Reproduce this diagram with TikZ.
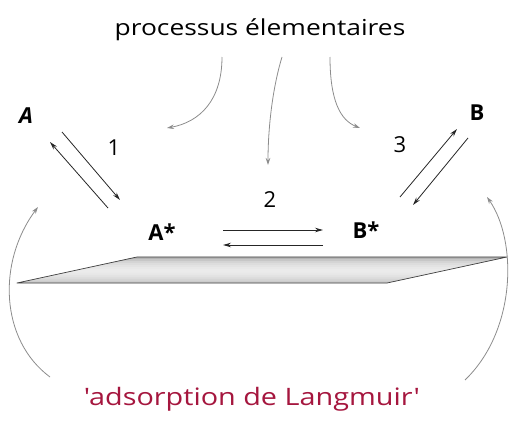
\documentclass[tikz,border=0pt]{standalone}
\usepackage{fontspec}
\setmainfont{Open Sans}
\newfontfamily\widefont[FakeStretch=1.2]{Open Sans}
\usetikzlibrary{arrows.meta}
\definecolor{crim}{RGB}{165,22,62}
\begin{document}
\begin{tikzpicture}[x=1pt,y=-1pt,
  lbl/.style={font=\widefont\fontsize{22}{26}\selectfont, inner sep=0pt},
  big/.style={font=\fontsize{22}{26}\selectfont\bfseries, inner sep=0pt},
  num/.style={font=\fontsize{22}{26}\selectfont, inner sep=0pt},
  grayarrow/.style={draw=gray!90, line width=0.8pt, -{Stealth[length=7pt,width=4.5pt]}},
  blackarrow/.style={draw=black!85, line width=0.8pt, -{Stealth[length=8pt,width=4.5pt]}}]
\useasboundingbox (0,0) rectangle (509,423);
% texts
\node[lbl] (title) at (260,30) {processus élementaires};
\node[lbl, text=crim, font=\widefont\fontsize{24}{28}\selectfont] (langmuir) at (252,399) {'adsorption de Langmuir'};
\node[big] (A) at (26,116) {\itshape A};
\node[big] (B) at (477,113) {B};
\node[big] (As) at (162,232) {A*};
\node[big] (Bs) at (366,230) {B*};
\node[num] (n1) at (114,148) {1};
\node[num] (n2) at (270,200) {2};
\node[num] (n3) at (400,145) {3};
% plate: gradient built from thin bands
\foreach \t/\c in {0/60,1/45,2/34,3/27,4/22,5/18,6/16,7/16,8/18,9/22,10/27,11/33,12/40}{
  \fill[gray!\c, draw=gray!\c, line width=0.3pt]
    ({137-120*\t/13},{257+26*\t/13}) -- ({507-120*\t/13},{257+26*\t/13})
    -- ({507-120*(\t+1)/13},{257+26*(\t+1)/13}) -- ({137-120*(\t+1)/13},{257+26*(\t+1)/13}) -- cycle;
}
\draw[black!75, line width=0.7pt, line join=round]
  (137,257) -- (507,257) -- (387,283) -- (17,283) -- cycle;
% coordinates for connector ends
\coordinate (g1s) at (222,57); \coordinate (g1e) at (167,128);
\coordinate (g2s) at (282,57); \coordinate (g2e) at (268,165);
\coordinate (g3s) at (330,57); \coordinate (g3e) at (360,128);
\coordinate (L1s) at (50,377); \coordinate (L1e) at (38,207);
\coordinate (R1s) at (465,380); \coordinate (R1e) at (487,197);
\coordinate (a1s) at (62,132); \coordinate (a1e) at (120,200);
\coordinate (b1s) at (108,208); \coordinate (b1e) at (50,142);
\coordinate (a2s) at (223,230); \coordinate (a2e) at (323,230);
\coordinate (b2s) at (323,245); \coordinate (b2e) at (223,245);
\coordinate (a3s) at (400,197); \coordinate (a3e) at (457,129);
\coordinate (b3s) at (468,138); \coordinate (b3e) at (413,205);
% gray arrows
\draw[grayarrow] (g1s) .. controls (222,100) and (200,122) .. (g1e);
\draw[grayarrow] (g2s) .. controls (272,90) and (268,130) .. (g2e);
\draw[grayarrow] (g3s) .. controls (330,100) and (340,120) .. (g3e);
\draw[grayarrow] (L1s) .. controls (0,340) and (-3,262) .. (L1e);
\draw[grayarrow] (R1s) .. controls (517,330) and (517,240) .. (R1e);
% black arrows
\draw[blackarrow] (a1s) -- (a1e);
\draw[blackarrow] (b1s) -- (b1e);
\draw[blackarrow] (a2s) -- (a2e);
\draw[blackarrow] (b2s) -- (b2e);
\draw[blackarrow] (a3s) -- (a3e);
\draw[blackarrow] (b3s) -- (b3e);
\end{tikzpicture}
\end{document}
